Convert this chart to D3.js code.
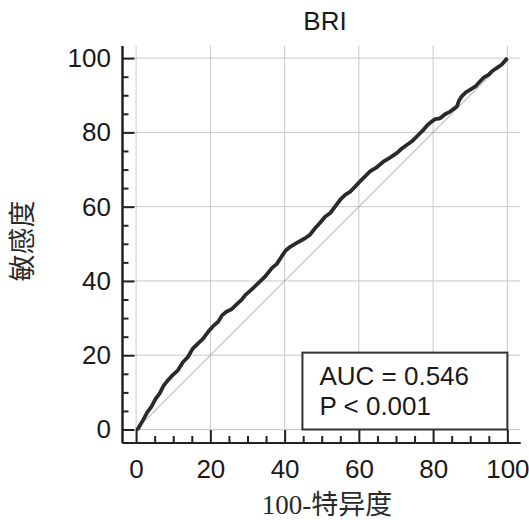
<!DOCTYPE html>
<html>
<head>
<meta charset="utf-8">
<script src="https://cdn.jsdelivr.net/npm/d3@7"></script>
<style>
  body { margin: 0; background: #fff; }
  svg { display: block; }
  .axis text { font-family: "Liberation Sans", Arial, sans-serif; font-size: 26px; fill: #1a1a1a; }
  .axis path, .axis line { stroke: #222; stroke-width: 2; }
</style>
</head>
<body>
<div id="chart"></div>
<script>

// ROC curve (100-specificity vs sensitivity, %)
var fpr = [0, 0.5, 1.9, 3.0, 4.1, 5.2, 6.4, 7.4, 8.6, 10.0, 11.3, 12.6, 14.0, 15.2, 16.7, 18.0,
           19.4, 20.8, 22.1, 23.2, 24.3, 25.6, 27.0, 28.4, 29.4, 31.0, 32.9, 34.6, 36.5, 37.9,
           39.2, 40.3, 41.5, 43.4, 45.5, 46.8, 48.2, 49.5, 50.9, 52.3, 53.6, 55.0, 56.3, 57.6,
           59.0, 60.6, 62.1, 63.0, 64.8, 66.6, 68.4, 70.2, 71.5, 72.9, 74.3, 75.6, 77.4, 78.5,
           79.6, 80.6, 81.9, 83.2, 84.6, 86.4, 87.0, 87.7, 88.8, 90.0, 91.3, 92.6, 93.7, 94.9,
           96.0, 97.1, 98.5, 100];
var tpr = [0, 0.2, 2.6, 4.6, 6.1, 8.2, 9.8, 11.8, 13.3, 14.8, 16.0, 18.1, 19.6, 21.7, 23.2, 24.4,
           26.3, 27.9, 29.0, 30.8, 31.7, 32.3, 33.6, 34.9, 36.2, 37.6, 39.4, 41.0, 43.4, 44.6,
           46.6, 48.2, 49.2, 50.3, 51.5, 52.4, 54.2, 55.6, 57.3, 58.3, 60.0, 61.9, 63.2, 64.0,
           65.4, 67.1, 68.6, 69.5, 70.6, 72.1, 73.2, 74.4, 75.6, 76.6, 77.6, 78.9, 80.7, 82.0,
           82.9, 83.6, 83.8, 84.9, 85.6, 87.0, 88.6, 89.7, 90.8, 91.5, 92.3, 93.7, 94.8, 95.5,
           96.6, 97.3, 98.3, 100];

var major_ticks = [0, 20, 40, 60, 80, 100];
var minor_ticks = [5, 10, 15, 25, 30, 35, 45, 50, 55, 65, 70, 75, 85, 90, 95];

var title = 'BRI';
var x_title = '100-特异度';
var y_title = '敏感度';
var stats = ['AUC = 0.546', 'P < 0.001'];
var stats_box = { x0: 44.8, x1: 100, y0: 0, y1: 20.7 };

var w = 529, h = 520;

// frame runs a little past 0 and 100 on both axes
var x = d3.scaleLinear().domain( [-3.8, 103.4] ).range( [122, 520] );
var y = d3.scaleLinear().domain( [-3.5, 103.4] ).range( [442.5, 45.5] );

var svg = d3.select( '#chart' )
            .append( 'svg' )
            .attr( 'width', w )
            .attr( 'height', h );

// Grid
svg.append( 'g' )
    .selectAll( 'line' )
    .data( major_ticks ).enter()
    .append( 'line' )
    .attr( 'x1', function ( d ) { return x( d ); } )
    .attr( 'x2', function ( d ) { return x( d ); } )
    .attr( 'y1', y.range()[0] )
    .attr( 'y2', y.range()[1] )
    .attr( 'stroke', '#c9c9c9' )
    .attr( 'stroke-width', 1 );

svg.append( 'g' )
    .selectAll( 'line' )
    .data( major_ticks ).enter()
    .append( 'line' )
    .attr( 'y1', function ( d ) { return y( d ); } )
    .attr( 'y2', function ( d ) { return y( d ); } )
    .attr( 'x1', x.range()[0] )
    .attr( 'x2', x.range()[1] )
    .attr( 'stroke', '#c9c9c9' )
    .attr( 'stroke-width', 1 );

// Reference diagonal
svg.append( 'line' )
    .attr( 'x1', x( 0 ) ).attr( 'y1', y( 0 ) )
    .attr( 'x2', x( 100 ) ).attr( 'y2', y( 100 ) )
    .attr( 'stroke', '#9a9a9a' )
    .attr( 'stroke-width', 1 );

// ROC curve
var line = d3.line()
             .x( function ( d ) { return x( d[0] ); } )
             .y( function ( d ) { return y( d[1] ); } );

svg.append( 'path' )
    .datum( d3.zip( fpr, tpr ) )
    .attr( 'd', line )
    .attr( 'fill', 'none' )
    .attr( 'stroke', '#2a2a2a' )
    .attr( 'stroke-width', 3.8 )
    .attr( 'stroke-linejoin', 'round' );

// Axes: ticks point into the plot
svg.append( 'g' )
    .attr( 'class', 'x axis' )
    .attr( 'transform', 'translate(0,' + y.range()[0] + ')' )
    .call( d3.axisBottom( x ).tickValues( minor_ticks ).tickSize( -6.5 ).tickSizeOuter( 0 ).tickFormat( '' ) );

svg.append( 'g' )
    .attr( 'class', 'x axis' )
    .attr( 'transform', 'translate(0,' + y.range()[0] + ')' )
    .call( d3.axisBottom( x ).tickValues( major_ticks ).tickSize( -12.5 ).tickSizeOuter( 0 ).tickPadding( 17 ) );

svg.append( 'g' )
    .attr( 'class', 'y axis' )
    .attr( 'transform', 'translate(' + x.range()[0] + ',0)' )
    .call( d3.axisLeft( y ).tickValues( minor_ticks ).tickSize( -6.5 ).tickSizeOuter( 0 ).tickFormat( '' ) );

svg.append( 'g' )
    .attr( 'class', 'y axis' )
    .attr( 'transform', 'translate(' + x.range()[0] + ',0)' )
    .call( d3.axisLeft( y ).tickValues( major_ticks ).tickSize( -12.5 ).tickSizeOuter( 0 ).tickPadding( 11 ) );

// Labels
svg.append( 'text' )
    .attr( 'x', 325 )
    .attr( 'y', 30 )
    .attr( 'text-anchor', 'middle' )
    .style( 'font', '26px "Liberation Sans", Arial, sans-serif' )
    .attr( 'fill', '#1a1a1a' )
    .text( title );

svg.append( 'text' )
    .attr( 'x', 327 )
    .attr( 'y', 514 )
    .attr( 'text-anchor', 'middle' )
    .style( 'font', '27px "Liberation Serif", "Noto Sans CJK SC", serif' )
    .attr( 'fill', '#2a2a2a' )
    .text( x_title );

svg.append( 'text' )
    .attr( 'transform', 'translate(32,241) rotate(-90)' )
    .attr( 'text-anchor', 'middle' )
    .style( 'font', '27px "Liberation Serif", "Noto Sans CJK SC", serif' )
    .attr( 'fill', '#2a2a2a' )
    .text( y_title );

// AUC box
svg.append( 'rect' )
    .attr( 'x', x( stats_box.x0 ) )
    .attr( 'y', y( stats_box.y1 ) )
    .attr( 'width', x( stats_box.x1 ) - x( stats_box.x0 ) )
    .attr( 'height', y( stats_box.y0 ) - y( stats_box.y1 ) )
    .attr( 'fill', '#fff' )
    .attr( 'stroke', '#333' )
    .attr( 'stroke-width', 2 );

svg.append( 'g' )
    .selectAll( 'text' )
    .data( stats ).enter()
    .append( 'text' )
    .attr( 'x', x( stats_box.x0 ) + 17 )
    .attr( 'y', function ( d, i ) { return y( stats_box.y1 ) + 32 + i * 30; } )
    .style( 'font', '26px "Liberation Sans", Arial, sans-serif' )
    .attr( 'fill', '#1a1a1a' )
    .text( function ( d ) { return d; } );

</script>
</body>
</html>
